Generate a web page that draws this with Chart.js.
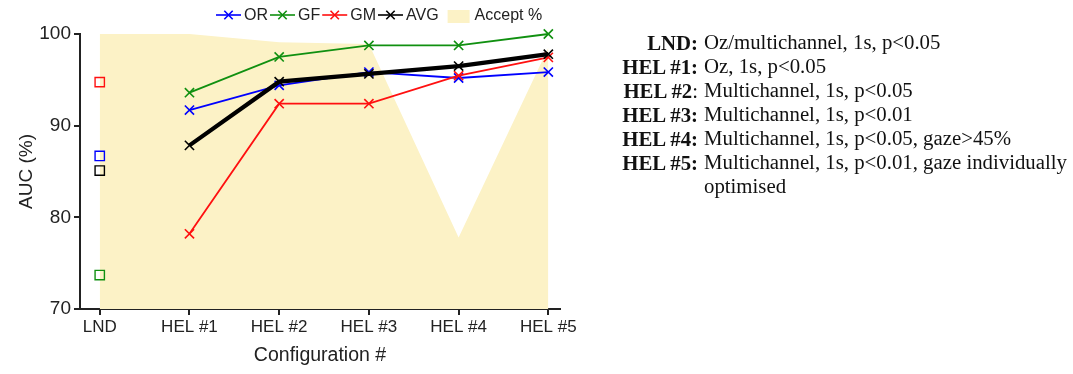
<!DOCTYPE html>
<html>
<head>
<meta charset="utf-8">
<script src="https://cdn.jsdelivr.net/npm/chart.js@4.4.0/dist/chart.umd.min.js"></script>
<style>
  html, body { margin: 0; padding: 0; background: #fff; width: 1073px; height: 374px; overflow: hidden; }
  #wrap { position: absolute; left: 0; top: 0; width: 600px; height: 374px; }
  #notes { position: absolute; left: 0; top: 0; width: 1073px; height: 374px;
           font-family: "Liberation Serif", "Times New Roman", serif; font-size: 20.8px; color: #111; }
  .key { position: absolute; right: 375px; text-align: right; white-space: nowrap; font-weight: bold; }
  .key span.plain { font-weight: normal; }
  .desc { position: absolute; left: 704px; white-space: pre; line-height: 24px; }
</style>
</head>
<body>
<div id="wrap"><canvas id="c" width="600" height="374"></canvas></div>
<div id="notes"></div>
<script>
// Configurations on the x axis
const categories = ['LND', 'HEL #1', 'HEL #2', 'HEL #3', 'HEL #4', 'HEL #5'];

// AUC (%) per configuration; LND is shown as a lone square, HEL #1-#5 as lines
const orAUC  = [86.7, 91.7, 94.4, 95.85, 95.2, 95.85];
const gfAUC  = [73.7, 93.6, 97.5, 98.75, 98.75, 100];
const gmAUC  = [94.75, 78.2, 92.4, 92.4, 95.45, 97.45];
const avgAUC = [85.1, 87.85, 94.8, 95.65, 96.5, 97.8];

// Acceptance percentage (shaded band)
const acceptPct = [100, 100, 99.1, 98.9, 77.8, 98.5];

const yTicks = [70, 80, 90, 100];

// Description of each configuration
const noteKeys   = ['LND', 'HEL #1', 'HEL #2', 'HEL #3', 'HEL #4', 'HEL #5'];
const colonBold  = [true, true, false, true, true, true];
const noteTexts  = [
  'Oz/multichannel, 1s, p<0.05',
  'Oz, 1s, p<0.05',
  'Multichannel, 1s, p<0.05',
  'Multichannel, 1s, p<0.01',
  'Multichannel, 1s, p<0.05, gaze>45%',
  'Multichannel, 1s, p<0.01, gaze individually\noptimised'
];

const notes = document.getElementById('notes');
noteKeys.forEach((k, i) => {
  const top = 31 + i * 24;
  const key = document.createElement('div');
  key.className = 'key';
  key.style.top = top + 'px';
  key.innerHTML = colonBold[i] ? (k + ':') : (k + '<span class="plain">:</span>');
  const d = document.createElement('div');
  d.className = 'desc';
  d.style.top = (top - 1) + 'px';
  d.textContent = noteTexts[i];
  notes.appendChild(key);
  notes.appendChild(d);
});

const helPts = arr => arr.map((v, i) => ({ x: i, y: v })).slice(1);
const lndPt  = arr => [{ x: 0, y: arr[0] }];

const BLUE = '#0000ff', GREEN = '#109010', RED = '#ff1010', BLACK = '#000000', CREAM = '#fcf2c6';
const AXIS = '#222222';
const sansFont = '"Liberation Sans", Arial, sans-serif';

function lineSet(label, arr, color, width, order) {
  return {
    type: 'line', label, data: helPts(arr), borderColor: color, backgroundColor: color,
    borderWidth: width, pointStyle: 'crossRot', pointRadius: 6.5, pointBorderWidth: 1.6,
    pointBorderColor: color, tension: 0, clip: false, order
  };
}
function squareSet(label, arr, color) {
  return {
    type: 'scatter', label, data: lndPt(arr), borderColor: color, backgroundColor: 'rgba(0,0,0,0)',
    pointStyle: 'rect', pointRadius: 6.6, pointBorderWidth: 1.4, showLine: false, clip: false, order: 5
  };
}

const legendItems = [
  { text: 'OR', color: BLUE, kind: 'line', width: 1.6 },
  { text: 'GF', color: GREEN, kind: 'line', width: 1.6 },
  { text: 'GM', color: RED, kind: 'line', width: 1.6 },
  { text: 'AVG', color: BLACK, kind: 'line', width: 1.6 },
  { text: 'Accept %', color: CREAM, kind: 'box' }
];

// Legend row above the plot: line + cross sample for each series, a filled box for the band
const topLegend = {
  id: 'topLegend',
  afterDraw(chart) {
    const ctx = chart.ctx;
    ctx.save();
    ctx.font = '16px ' + sansFont;
    ctx.textBaseline = 'middle';
    let x = 216;
    const y = 15;
    legendItems.forEach(it => {
      if (it.kind === 'line') {
        ctx.strokeStyle = it.color;
        ctx.lineWidth = it.width;
        ctx.beginPath(); ctx.moveTo(x, y); ctx.lineTo(x + 25, y); ctx.stroke();
        const r = 4.2, cx = x + 12.5;
        ctx.beginPath();
        ctx.moveTo(cx - r, y - r); ctx.lineTo(cx + r, y + r);
        ctx.moveTo(cx - r, y + r); ctx.lineTo(cx + r, y - r);
        ctx.stroke();
        x += 28;
      } else {
        ctx.fillStyle = it.color;
        ctx.fillRect(x + 7, y - 5, 22, 13);
        x += 34;
      }
      ctx.fillStyle = AXIS;
      ctx.fillText(it.text, x, y + 1);
      x += ctx.measureText(it.text).width + 2;
    });
    ctx.restore();
  }
};

new Chart(document.getElementById('c'), {
  data: {
    datasets: [
      {
        type: 'line', label: 'Accept %', data: acceptPct.map((v, i) => ({ x: i, y: v })),
        borderWidth: 0, borderColor: CREAM, backgroundColor: CREAM, fill: 'start',
        pointRadius: 0, tension: 0, order: 20
      },
      lineSet('OR', orAUC, BLUE, 1.8, 4),
      lineSet('GF', gfAUC, GREEN, 1.8, 3),
      lineSet('GM', gmAUC, RED, 1.8, 2),
      lineSet('AVG', avgAUC, BLACK, 4.2, 1),
      squareSet('OR LND', orAUC, BLUE),
      squareSet('GF LND', gfAUC, GREEN),
      squareSet('GM LND', gmAUC, RED),
      squareSet('AVG LND', avgAUC, BLACK)
    ]
  },
  options: {
    responsive: false,
    animation: false,
    layout: { padding: { top: 34, right: 40, left: 0, bottom: 0 } },
    plugins: { legend: { display: false }, tooltip: { enabled: false } },
    scales: {
      x: {
        type: 'linear', min: -0.22, max: 5.13,
        afterBuildTicks: s => { s.ticks = categories.map((c, i) => ({ value: i })); },
        afterFit: s => { s.height = 65; },
        ticks: { callback: v => categories[v], font: { family: sansFont, size: 17 }, color: AXIS, padding: 2, maxRotation: 0, autoSkip: false },
        grid: { drawOnChartArea: false, drawTicks: true, tickLength: 6, color: AXIS, lineWidth: 2 },
        border: { color: AXIS, width: 2 },
        title: { display: true, text: 'Configuration #', font: { family: sansFont, size: 19.5 }, color: AXIS, padding: { bottom: 7 } }
      },
      y: {
        type: 'linear', min: 70, max: 100,
        afterBuildTicks: s => { s.ticks = yTicks.map(v => ({ value: v })); },
        afterFit: s => { s.width = 80; },
        ticks: { font: { family: sansFont, size: 19 }, color: AXIS, padding: 3 },
        grid: { drawOnChartArea: false, drawTicks: true, tickLength: 6, color: AXIS, lineWidth: 2 },
        border: { color: AXIS, width: 2 },
        title: { display: true, text: 'AUC (%)', font: { family: sansFont, size: 19 }, color: AXIS, padding: { top: 15 } }
      }
    }
  },
  plugins: [topLegend]
});
</script>
</body>
</html>
